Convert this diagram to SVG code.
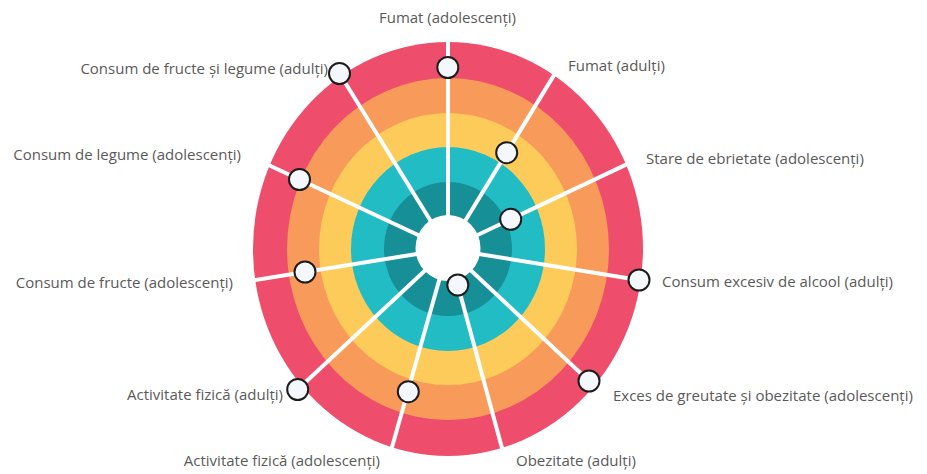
<svg xmlns="http://www.w3.org/2000/svg" width="927" height="474" viewBox="0 0 927 474">
<style>
  .lbl { font-family: "Open Sans", "Noto Sans", "Liberation Sans", sans-serif; font-size: 15px; fill: #5a5a5a; }
  .end { text-anchor: end; }
  .mid { text-anchor: middle; }
  .spoke { stroke: #ffffff; stroke-width: 4; stroke-linecap: butt; fill: none; }
  .dot { fill: #f4f8fc; stroke: #1c1c1c; stroke-width: 2; }
</style>
<rect width="927" height="474" fill="#ffffff"/>
<g id="rings">
  <ellipse cx="448" cy="249" rx="195" ry="207" fill="#ee4e6b"/>
  <ellipse cx="448" cy="249" rx="161" ry="171" fill="#f89a59"/>
  <ellipse cx="448" cy="249" rx="129" ry="136" fill="#fdcb5a"/>
  <ellipse cx="448" cy="249" rx="97" ry="102" fill="#22bcc5"/>
  <ellipse cx="448" cy="249" rx="64" ry="67" fill="#168f96"/>
</g>
<g id="connectors">
  <line class="spoke" x1="448" y1="249" x2="448" y2="36"/>
  <line class="spoke" x1="448" y1="249" x2="557.2" y2="69.9"/>
  <line class="spoke" x1="448" y1="249" x2="631.4" y2="162.1"/>
  <line class="spoke" x1="448" y1="249" x2="646.5" y2="281.2"/>
  <line class="spoke" x1="448" y1="249" x2="598.6" y2="390"/>
  <line class="spoke" x1="448" y1="249" x2="503.6" y2="454"/>
  <line class="spoke" x1="448" y1="249" x2="390.3" y2="453.2"/>
  <line class="spoke" x1="448" y1="249" x2="295" y2="392"/>
  <line class="spoke" x1="448" y1="249" x2="249.4" y2="280.9"/>
  <line class="spoke" x1="448" y1="249" x2="264.2" y2="163"/>
  <line class="spoke" x1="448" y1="249" x2="337.8" y2="70.7"/>
</g>
<ellipse id="hub" cx="448" cy="248" rx="32.5" ry="33" fill="#ffffff"/>
<g id="n-fumat-adolescenti">
  <circle class="dot" cx="447.8" cy="67.5" r="10.5"/>
  <text class="lbl mid" x="447.5" y="23">Fumat (adolescenți)</text>
</g>
<g id="n-fumat-adulti">
  <circle class="dot" cx="506.7" cy="152.7" r="10.5"/>
  <text class="lbl" x="568" y="71">Fumat (adulți)</text>
</g>
<g id="n-stare-ebrietate">
  <circle class="dot" cx="510.7" cy="219.3" r="10.5"/>
  <text class="lbl" x="646" y="164">Stare de ebrietate (adolescenți)</text>
</g>
<g id="n-consum-alcool">
  <circle class="dot" cx="639" cy="280" r="10.5"/>
  <text class="lbl" x="662" y="287">Consum excesiv de alcool (adulți)</text>
</g>
<g id="n-exces-greutate">
  <circle class="dot" cx="589" cy="381" r="10.5"/>
  <text class="lbl" x="613" y="400.5">Exces de greutate și obezitate (adolescenți)</text>
</g>
<g id="n-obezitate">
  <circle class="dot" cx="457.8" cy="285" r="10.5"/>
  <text class="lbl" x="516" y="466">Obezitate (adulți)</text>
</g>
<g id="n-activitate-adolescenti">
  <circle class="dot" cx="408.3" cy="391.7" r="10.5"/>
  <text class="lbl end" x="380" y="466">Activitate fizică (adolescenți)</text>
</g>
<g id="n-activitate-adulti">
  <circle class="dot" cx="297.7" cy="389.5" r="10.5"/>
  <text class="lbl end" x="283" y="400">Activitate fizică (adulți)</text>
</g>
<g id="n-consum-fructe">
  <circle class="dot" cx="305" cy="272" r="10.5"/>
  <text class="lbl end" x="233" y="288">Consum de fructe (adolescenți)</text>
</g>
<g id="n-consum-legume">
  <circle class="dot" cx="299.5" cy="179.5" r="10.5"/>
  <text class="lbl end" x="241" y="159.5">Consum de legume (adolescenți)</text>
</g>
<g id="n-fructe-legume-adulti">
  <circle class="dot" cx="339.5" cy="73.5" r="10.5"/>
  <text class="lbl end" x="328" y="74">Consum de fructe și legume (adulți)</text>
</g>
</svg>
